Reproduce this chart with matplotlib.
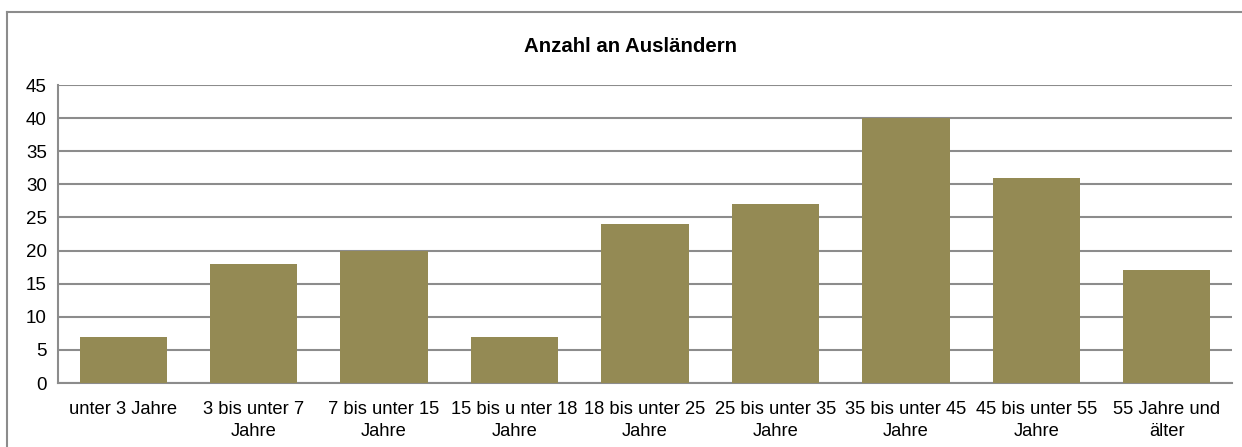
import matplotlib.pyplot as plt

# Altersgruppen und Anzahl
categories = [
    "unter 3 Jahre", "3 bis unter 7\nJahre", "7 bis unter 15\nJahre",
    "15 bis u nter 18\nJahre", "18 bis unter 25\nJahre", "25 bis unter 35\nJahre",
    "35 bis unter 45\nJahre", "45 bis unter 55\nJahre", "55 Jahre und\nälter",
]
values = [7, 18, 20, 7, 24, 27, 40, 31, 17]
y_ticks = list(range(0, 50, 5))

plt.rcParams['font.family'] = ['Liberation Sans', 'DejaVu Sans']

fig = plt.figure(figsize=(12.42, 4.47), dpi=100)
ax = fig.add_axes([58 / 1242, 1 - 383 / 447, (1232 - 58) / 1242, (383 - 85) / 447])

grid_col = '#8c8c8c'
x = range(len(categories))
ax.bar(x, values, width=0.67, color='#948A54', zorder=3)

ax.set_xlim(-0.5, len(categories) - 0.5)
ax.set_ylim(0, 45)
ax.set_yticks(y_ticks)
ax.set_xticks(list(x))
ax.set_xticklabels(categories, fontsize=13.2, linespacing=1.35)
ax.tick_params(axis='y', labelsize=13.5, length=0, pad=8)
ax.tick_params(axis='x', length=0, pad=13)
ax.yaxis.grid(True, color=grid_col, linewidth=1.5, zorder=0)
ax.set_axisbelow(True)

for side in ('top', 'right'):
    ax.spines[side].set_visible(False)
for side in ('left', 'bottom'):
    ax.spines[side].set_color(grid_col)
    ax.spines[side].set_linewidth(1.5)

ax.set_title("Anzahl an Ausländern", fontsize=14.7, fontweight='bold', pad=0,
             x=(630 - 58) / (1232 - 58), y=1 + (85 - 47) / (383 - 85), va='center')

# Rahmen um das Diagramm (nur oben und links sichtbar)
fig.add_artist(plt.Line2D([7 / 1242, 1.0], [1 - 12 / 447] * 2,
                          transform=fig.transFigure, color=grid_col, linewidth=1.5))
fig.add_artist(plt.Line2D([7 / 1242] * 2, [0.0, 1 - 12 / 447],
                          transform=fig.transFigure, color=grid_col, linewidth=1.5))

fig.savefig('out.png', dpi=100)
